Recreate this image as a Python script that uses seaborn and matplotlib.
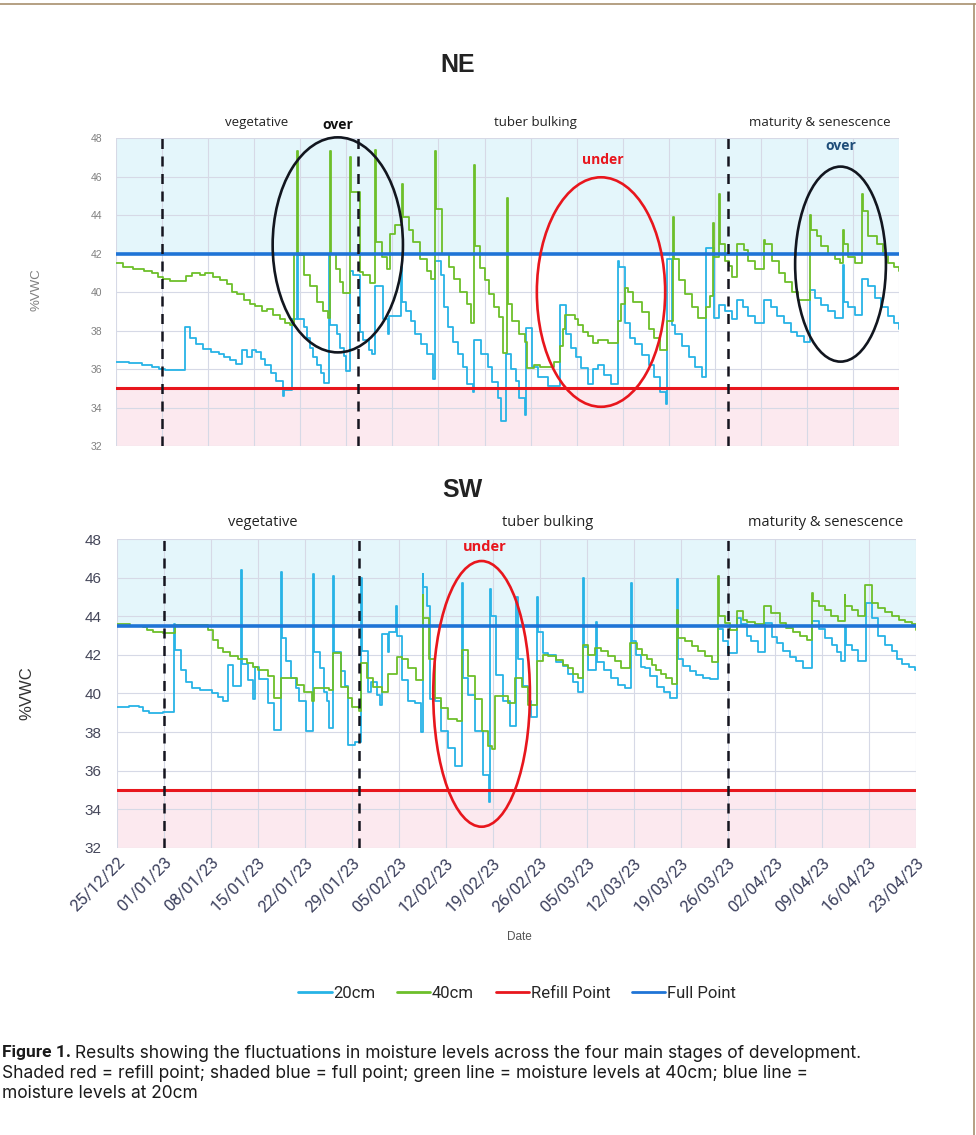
import pandas as pd
import matplotlib
matplotlib.use("Agg")
import matplotlib.pyplot as plt
import matplotlib.dates as mdates
from matplotlib.patches import Ellipse
from matplotlib.lines import Line2D
import seaborn as sns

START = pd.Timestamp("2022-12-25")
N_DAYS = 119

# soil moisture breakpoints: (days since 25/12/22, %VWC), each value held until the next one
ne_20 = [(0, 36.35), (2, 36.3), (4, 36.2), (5.4, 36.1), (6.5, 36.0), (7.5, 35.95), (10.5, 38.2), (11.2, 37.6),
         (12.2, 37.3), (13.2, 37.05), (14.5, 36.9), (15.6, 36.8), (16.4, 36.6), (17.3, 36.45), (18.2, 36.25),
         (19.2, 37.0), (19.9, 36.6), (20.6, 37.0), (21.3, 36.9), (22.0, 36.5), (22.7, 36.2), (23.5, 35.8),
         (24.3, 35.4), (25.3, 34.6), (25.6, 34.9), (26.8, 38.6), (27.5, 42.1), (27.65, 38.6), (28.5, 38.2),
         (29.0, 37.6), (29.5, 37.1), (30.0, 36.6), (30.6, 36.2), (31.1, 35.8), (31.6, 35.3), (32.4, 42.0),
         (32.55, 38.3), (33.6, 37.8), (34.0, 37.1), (34.6, 36.7), (35.0, 35.9), (35.5, 41.1), (36.0, 40.9),
         (37.0, 37.9), (37.6, 37.5), (38.4, 37.0), (38.9, 36.8), (39.4, 40.3), (40.5, 38.6), (41.3, 37.8),
         (41.5, 38.75), (43.3, 41.3), (43.45, 39.5), (44.0, 39.0), (44.8, 38.5), (45.5, 37.8), (46.3, 37.3),
         (47.3, 36.8), (48.1, 35.5), (48.5, 41.6), (49.4, 40.9), (49.8, 39.2), (50.4, 38.2), (51.2, 37.4),
         (51.9, 36.8), (52.7, 36.1), (53.4, 35.2), (54.2, 34.8), (54.4, 37.5), (55.4, 36.8), (56.5, 36.1),
         (57.2, 35.35), (58.0, 34.5), (58.5, 33.3), (59.3, 36.8), (60.0, 36.0), (60.8, 35.4), (61.3, 34.5),
         (62.1, 33.6), (62.3, 38.15), (63.2, 36.1), (64.1, 35.6), (65.6, 35.1), (67.4, 39.35), (68.4, 37.8),
         (69.2, 37.1), (69.9, 36.6), (70.7, 36.05), (71.7, 35.2), (72.5, 36.0), (73.2, 36.2), (74.2, 35.7),
         (75.2, 35.2), (76.3, 41.6), (76.5, 41.3), (77.4, 38.4), (78.1, 37.6), (78.9, 37.3), (80.0, 36.75),
         (81.0, 36.2), (81.7, 35.6), (82.7, 34.8), (83.6, 34.2), (83.8, 41.7), (84.5, 38.3), (85.0, 37.8),
         (86.0, 37.2), (87.0, 36.6), (88.0, 36.1), (89.0, 35.6), (89.7, 42.3), (90.8, 38.65), (91.6, 39.35),
         (92.6, 39.0), (93.6, 38.6), (94.4, 39.6), (95.3, 39.2), (96.1, 38.75), (97.1, 38.4), (98.5, 39.6),
         (99.5, 39.2), (100.5, 38.75), (101.5, 38.4), (102.5, 37.95), (103.5, 37.7), (104.5, 37.4),
         (105.4, 40.1), (106.2, 39.7), (107.2, 39.35), (108.2, 39.0), (109.2, 38.65), (110.5, 41.4),
         (110.65, 39.5), (111.3, 39.2), (112.3, 38.8), (113.4, 40.7), (114.3, 40.3), (115.3, 39.7),
         (116.3, 39.2), (117.3, 38.75), (118.3, 38.4), (119.0, 38.1)]

ne_40 = [(0, 41.5), (1.1, 41.3), (2.6, 41.2), (4.2, 41.1), (5.4, 41.0), (6.4, 40.8), (7.2, 40.7), (8.2, 40.55),
         (10.6, 40.85), (11.5, 41.0), (12.8, 40.9), (13.5, 41.0), (14.8, 40.8), (15.8, 40.6), (16.8, 40.4),
         (17.6, 40.0), (18.4, 39.9), (19.4, 39.6), (20.4, 39.4), (21.1, 39.3), (22.2, 39.0), (22.9, 39.1),
         (23.9, 38.8), (24.9, 38.6), (25.7, 38.4), (26.5, 38.3), (27.0, 42.0), (27.5, 47.3), (27.7, 41.9),
         (28.5, 40.9), (29.5, 40.3), (30.5, 39.5), (31.4, 39.0), (32.2, 38.65), (32.5, 47.3), (32.7, 42.0),
         (33.5, 41.2), (34.0, 40.5), (34.5, 39.95), (35.5, 47.0), (35.65, 45.2), (37.0, 41.05), (37.6, 40.9),
         (38.6, 40.45), (39.4, 47.4), (39.55, 42.6), (40.4, 41.8), (41.2, 41.2), (41.6, 43.0), (42.4, 43.5),
         (43.4, 45.6), (43.55, 43.9), (44.5, 43.2), (45.2, 42.6), (46.2, 41.7), (47.3, 41.1), (47.8, 40.7),
         (48.5, 47.3), (48.65, 44.3), (49.6, 42.0), (50.6, 41.3), (51.3, 40.7), (52.3, 40.0), (53.3, 39.4),
         (54.0, 38.4), (54.4, 46.6), (54.55, 42.4), (55.3, 41.25), (56.0, 40.6), (56.7, 39.9), (57.5, 39.2),
         (58.2, 38.7), (58.75, 36.85), (59.4, 44.9), (59.55, 39.4), (60.2, 38.5), (61.2, 37.8), (62.2, 37.4),
         (62.5, 36.05), (63.5, 36.2), (64.5, 36.1), (66.5, 36.35), (67.5, 37.2), (67.9, 38.1), (68.3, 38.8),
         (69.7, 38.6), (70.2, 38.3), (71.0, 37.95), (71.7, 37.7), (72.5, 37.35), (73.3, 37.5), (74.8, 37.35),
         (76.3, 38.5), (76.8, 39.4), (77.3, 40.2), (77.8, 40.0), (78.5, 39.5), (80.0, 38.95), (81.0, 38.1),
         (81.7, 37.6), (82.7, 37.0), (83.7, 38.5), (84.6, 43.9), (84.75, 41.7), (85.5, 40.6), (86.5, 39.9),
         (87.5, 39.2), (88.5, 38.65), (89.6, 39.2), (90.2, 39.8), (90.7, 43.6), (90.85, 41.8), (91.6, 45.1),
         (91.75, 42.5), (92.6, 41.6), (93.2, 41.35), (93.6, 40.8), (94.4, 42.5), (95.4, 42.2), (96.1, 41.6),
         (97.1, 41.2), (98.5, 42.7), (98.65, 42.5), (99.7, 41.6), (100.7, 41.0), (101.7, 40.5), (102.7, 40.0),
         (103.7, 39.6), (105.4, 44.0), (105.55, 43.2), (106.5, 42.9), (107.2, 42.4), (108.2, 42.0),
         (109.2, 41.7), (110.0, 41.5), (110.5, 43.2), (110.65, 42.5), (111.3, 41.8), (112.3, 41.5),
         (113.4, 45.1), (113.55, 44.2), (114.3, 42.9), (115.6, 42.5), (116.6, 41.9), (117.3, 41.5),
         (118.3, 41.3), (119.0, 41.1)]

sw_20 = [(0, 39.3), (1.8, 39.35), (3.3, 39.3), (3.8, 39.1), (4.8, 39.0), (6.8, 39.05), (8.5, 43.6), (8.7, 42.25),
         (9.5, 41.2), (10.3, 40.6), (11.2, 40.3), (12.4, 40.2), (14.1, 40.0), (15.1, 39.8), (15.8, 39.6),
         (16.6, 41.5), (17.3, 40.4), (18.4, 46.4), (18.55, 41.55), (19.5, 40.7), (20.3, 39.7), (20.5, 41.35),
         (21.2, 40.75), (22.5, 39.5), (23.4, 38.1), (24.4, 46.3), (24.55, 42.85), (25.2, 41.7), (25.9, 40.8),
         (26.6, 40.3), (27.1, 39.6), (28.1, 38.05), (29.2, 46.2), (29.35, 42.15), (30.2, 41.3), (30.8, 40.1),
         (31.3, 39.6), (31.5, 38.2), (32.2, 46.1), (32.35, 42.15), (33.3, 41.15), (34.0, 40.4), (34.4, 37.35),
         (35.5, 37.5), (36.4, 46.0), (36.55, 42.2), (37.4, 40.1), (37.9, 40.6), (38.7, 39.9), (39.2, 39.4),
         (39.5, 43.1), (40.4, 42.15), (40.5, 43.2), (41.5, 44.55), (41.65, 43.0), (42.4, 40.7), (43.4, 39.6),
         (44.4, 39.5), (45.3, 38.0), (45.5, 46.2), (45.6, 45.5), (46.1, 44.55), (46.6, 39.7), (47.4, 39.6),
         (48.3, 38.05), (49.3, 37.2), (50.3, 36.25), (51.4, 45.7), (51.55, 40.8), (52.3, 39.9), (53.3, 38.05),
         (54.5, 35.8), (55.4, 34.4), (55.5, 45.4), (55.65, 44.0), (56.5, 40.95), (57.5, 39.6), (58.5, 38.3),
         (59.5, 45.0), (59.65, 41.8), (60.5, 40.4), (61.2, 39.6), (61.7, 38.8), (62.5, 45.0), (62.65, 43.2),
         (63.5, 42.1), (64.2, 42.0), (65.4, 41.65), (66.4, 41.4), (67.2, 41.0), (67.9, 40.6), (68.7, 40.1),
         (69.4, 46.0), (69.55, 42.4), (70.2, 41.2), (71.4, 43.7), (71.55, 41.65), (72.6, 41.2), (73.6, 40.8),
         (74.6, 40.45), (75.6, 40.3), (76.5, 45.7), (76.65, 42.7), (77.3, 42.0), (78.0, 41.35), (78.6, 41.3),
         (79.4, 40.9), (80.4, 40.35), (81.4, 40.1), (82.4, 39.75), (83.4, 45.95), (83.55, 41.8), (84.3, 41.4),
         (85.3, 41.15), (86.3, 40.95), (87.3, 40.8), (88.3, 40.75), (89.5, 43.35), (90.3, 42.7), (91.0, 42.1),
         (92.4, 43.9), (93.0, 43.6), (93.8, 43.0), (94.5, 42.7), (95.5, 42.15), (96.5, 43.65), (97.5, 42.9),
         (98.3, 42.6), (99.2, 42.2), (100.2, 41.9), (101.2, 41.7), (102.2, 41.3), (103.5, 43.75), (104.5, 43.35),
         (105.5, 42.85), (106.5, 42.5), (107.2, 42.15), (107.9, 41.7), (108.4, 43.5), (108.55, 42.5),
         (109.4, 42.25), (110.4, 41.7), (111.5, 44.7), (112.4, 43.9), (113.4, 43.0), (114.4, 42.5),
         (115.4, 42.2), (116.2, 41.8), (116.9, 41.55), (117.9, 41.35), (118.9, 41.2), (119.0, 41.2)]

sw_40 = [(0, 43.6), (2, 43.5), (3.8, 43.45), (4.5, 43.3), (5.3, 43.2), (6.8, 43.15), (8.6, 43.55), (13.5, 43.3),
         (14.3, 42.75), (15.0, 42.35), (15.8, 42.15), (16.8, 41.95), (18.0, 41.8), (19.3, 41.6), (20.3, 41.35),
         (21.0, 41.2), (22.5, 40.9), (23.4, 39.75), (24.4, 40.8), (26.8, 40.45), (27.8, 40.1), (29.1, 39.6),
         (29.3, 40.3), (31.6, 40.2), (32.2, 42.1), (33.4, 40.35), (34.4, 39.75), (35.0, 39.3), (36.0, 39.1),
         (36.4, 41.6), (37.2, 40.8), (38.2, 40.35), (39.4, 40.1), (40.4, 41.0), (41.7, 41.9), (42.4, 41.8),
         (43.4, 41.3), (44.6, 40.7), (45.5, 45.1), (45.6, 43.9), (46.4, 41.8), (47.4, 39.75), (48.3, 39.25),
         (49.3, 38.7), (50.6, 38.6), (51.4, 42.25), (52.3, 40.9), (53.3, 39.7), (54.3, 38.05), (55.3, 37.3),
         (55.9, 37.15), (56.3, 39.85), (58.3, 39.5), (59.3, 40.8), (60.3, 40.35), (61.2, 39.4), (62.5, 41.7),
         (63.5, 42.0), (64.2, 41.95), (65.4, 41.75), (66.4, 41.5), (67.2, 41.3), (67.9, 41.0), (68.7, 40.8),
         (69.4, 42.5), (70.2, 42.0), (71.2, 42.35), (72.1, 42.2), (73.1, 41.95), (74.1, 41.7), (75.1, 41.3),
         (76.4, 42.6), (77.4, 42.3), (78.2, 42.0), (78.9, 41.8), (79.7, 41.5), (80.3, 41.2), (81.0, 41.0),
         (81.7, 40.8), (82.6, 40.5), (83.4, 44.3), (83.55, 42.85), (84.6, 42.7), (85.6, 42.45), (86.6, 42.2),
         (87.6, 41.95), (88.6, 41.65), (89.5, 46.1), (89.65, 44.0), (90.6, 43.65), (91.3, 43.3), (92.4, 44.25),
         (93.3, 43.8), (93.8, 43.7), (95.0, 43.6), (96.4, 44.55), (97.4, 44.15), (98.7, 43.65), (99.7, 43.4),
         (100.7, 43.2), (101.7, 43.0), (102.7, 42.75), (103.5, 45.2), (103.6, 44.8), (104.5, 44.55),
         (105.5, 44.3), (106.4, 44.0), (107.4, 43.75), (108.4, 45.1), (108.5, 44.55), (109.4, 44.3),
         (110.4, 44.0), (111.4, 45.6), (112.5, 44.7), (113.4, 44.45), (114.4, 44.2), (115.4, 44.0),
         (116.4, 43.8), (117.4, 43.7), (118.4, 43.6), (119.0, 43.3)]

refill_point = 35
ne_full_point = 42
sw_full_point = 43.5
stage_names = ["vegetative", "tuber bulking", "maturity & senescence"]
ne_stage_starts = [7, 36.8, 93]      # dashed lines, days after start
sw_stage_starts = [7, 36, 91]

CYAN = "#27b3e6"
GREEN = "#6dbf2a"
RED = "#e8161d"
BLUE = "#1f74d6"
SHADE_BLUE = "#e4f6fb"
SHADE_PINK = "#fce9ef"
GRID = "#d6d9e6"


def day(d):
    return START + pd.Timedelta(days=d)


def dnum(d):
    return mdates.date2num(day(d))


def site_frame(series):
    rows = []
    for depth, pts in series.items():
        for d, v in pts:
            rows.append({"date": day(d), "vwc": v, "depth": depth})
    return pd.DataFrame(rows)


def draw_site(ax, df, full, starts):
    ax.axhspan(full, 48, color=SHADE_BLUE, zorder=0, lw=0)
    ax.axhspan(32, refill_point, color=SHADE_PINK, zorder=0, lw=0)
    sns.lineplot(data=df, x="date", y="vwc", hue="depth", hue_order=["20cm", "40cm"],
                 palette={"20cm": CYAN, "40cm": GREEN}, estimator=None, drawstyle="steps-post",
                 lw=1.3, legend=False, ax=ax, zorder=3)
    ax.axhline(refill_point, color=RED, lw=2.2, zorder=4)
    ax.axhline(full, color=BLUE, lw=2.6, zorder=4)
    for s in starts:
        ax.axvline(day(s), color="#15151f", lw=1.8, ls=(0, (4, 3)), zorder=5)
    ax.set_xlim(day(0), day(N_DAYS))
    ax.set_ylim(32, 48)
    ax.set_yticks(range(32, 49, 2))
    ax.set_xticks([day(7 * i) for i in range(18)])
    ax.set_axisbelow(True)
    ax.grid(True, color=GRID, lw=0.8)
    for sp in ax.spines.values():
        sp.set_visible(False)
    ax.set_xlabel("")
    ax.set_ylabel("")


sns.set_theme(style="white")
plt.rcParams["font.family"] = ["Liberation Sans", "DejaVu Sans"]

fig = plt.figure(figsize=(9.76, 11.35), dpi=100)
ax_ne = fig.add_axes([0.1189, 0.6070, 0.8023, 0.2714])
ax_sw = fig.add_axes([0.1199, 0.2529, 0.8186, 0.2722])

ne = site_frame({"20cm": ne_20, "40cm": ne_40})
sw = site_frame({"20cm": sw_20, "40cm": sw_40})
draw_site(ax_ne, ne, ne_full_point, ne_stage_starts)
draw_site(ax_sw, sw, sw_full_point, sw_stage_starts)

# NE axis styling: small grey y labels, no date labels
ax_ne.tick_params(axis="y", labelsize=7.5, labelcolor="#808080", length=0, pad=10)
ax_ne.tick_params(axis="x", labelbottom=False, length=0)

ax_sw.tick_params(axis="y", labelsize=11, labelcolor="#45475a", length=0, pad=11)
ax_sw.tick_params(axis="x", length=3, color="#999999", pad=2)
ax_sw.set_xticklabels([day(7 * i).strftime("%d/%m/%y") for i in range(18)], rotation=45, ha="right",
                      va="top", rotation_mode="anchor", fontsize=12, color="#3b3f5c",
                      family=["Liberation Sans Narrow", "Roboto", "DejaVu Sans"])

# stage labels
stage_font = ["Open Sans", "DejaVu Sans"]
for ax, centres, dy, fs in [(ax_ne, [21.4, 63.7, 107], 1.049, 9.5), (ax_sw, [21.7, 64.2, 105.6], 1.052, 10.5)]:
    for name, c in zip(stage_names, centres):
        ax.text(dnum(c), dy, name, transform=ax.get_xaxis_transform(), ha="center", va="center",
                fontsize=fs, color="#222222", family=stage_font)

ax_ne.text(dnum(33.7), 1.042, "over", transform=ax_ne.get_xaxis_transform(), ha="center", va="center",
           fontsize=10, weight="bold", color="#111111", family=stage_font)
ax_ne.text(dnum(73.9), 46.85, "under", ha="center", va="center", fontsize=10, weight="bold",
           color=RED, family=stage_font, zorder=6)
ax_ne.text(dnum(110.2), 47.6, "over", ha="center", va="center", fontsize=10, weight="bold",
           color="#1f4e79", family=stage_font, zorder=6)
ax_sw.text(dnum(54.8), 47.6, "under", ha="center", va="center", fontsize=10.5, weight="bold",
           color=RED, family=stage_font, zorder=6)

# circled over/under-watering periods
for ax, c, y, w, h, col in [(ax_ne, 33.7, 42.45, 19.8, 11.17, "#12161f"),
                            (ax_ne, 73.7, 40.0, 19.5, 11.92, RED),
                            (ax_ne, 110.1, 41.45, 13.8, 10.13, "#12161f"),
                            (ax_sw, 54.3, 39.98, 14.4, 13.76, RED)]:
    ax.add_patch(Ellipse((dnum(c), y), w, h, fill=False, ec=col, lw=1.9, zorder=6, clip_on=False))

# titles and axis labels
fig.text(458 / 976, 1 - 65 / 1135, "NE", ha="center", va="center", fontsize=18, weight="bold", color="#222222")
fig.text(462 / 976, 1 - 490 / 1135, "SW", ha="center", va="center", fontsize=18, weight="bold", color="#222222")
fig.text(37 / 976, 1 - 290 / 1135, "%VWC", rotation=90, ha="center", va="center", fontsize=9.5, color="#808080")
fig.text(27 / 976, 1 - 693 / 1135, "%VWC", rotation=90, ha="center", va="center", fontsize=12, color="#333333")
fig.text(519 / 976, 1 - 937 / 1135, "Date", ha="center", va="center", fontsize=8.5, color="#555555")

# legend
cap_font = ["Roboto", "DejaVu Sans"]
handles = [Line2D([], [], color=c, lw=2) for c in (CYAN, GREEN, RED, BLUE)]
fig.legend(handles, ["20cm", "40cm", "Refill Point", "Full Point"], loc="center",
           bbox_to_anchor=(517 / 976, 1 - 993 / 1135), ncol=4, frameon=False, handlelength=2.0,
           handletextpad=0.1, columnspacing=1.3, prop={"family": cap_font, "size": 12})

# caption
lines = ["Results showing the fluctuations in moisture levels across the four main stages of development.",
         "Shaded red = refill point; shaded blue = full point; green line = moisture levels at 40cm; blue line =",
         "moisture levels at 20cm"]
body_font = ["Inter", "Roboto", "DejaVu Sans"]
bold = fig.text(0.002, 1 - 1053 / 1135, "Figure 1.", ha="left", va="center", fontsize=12.5, weight="bold",
                family=cap_font, color="#1a1a1a")
renderer = fig.canvas.get_renderer()
bx = bold.get_window_extent(renderer).x1 / fig.bbox.width
fig.text(bx + 0.004, 1 - 1053 / 1135, lines[0], ha="left", va="center", fontsize=12.5, family=body_font,
         color="#1a1a1a")
fig.text(0.002, 1 - 1073 / 1135, lines[1], ha="left", va="center", fontsize=12.5, family=body_font, color="#1a1a1a")
fig.text(0.002, 1 - 1093 / 1135, lines[2], ha="left", va="center", fontsize=12.5, family=body_font, color="#1a1a1a")

# page frame lines
fig.add_artist(Line2D([0, 1], [1 - 4 / 1135, 1 - 4 / 1135], color="#a8906e", lw=1.2, transform=fig.transFigure))
fig.add_artist(Line2D([0.998, 0.998], [0, 1 - 4 / 1135], color="#a8906e", lw=1.2, transform=fig.transFigure))

fig.savefig("out.png", dpi=100, facecolor="white")
